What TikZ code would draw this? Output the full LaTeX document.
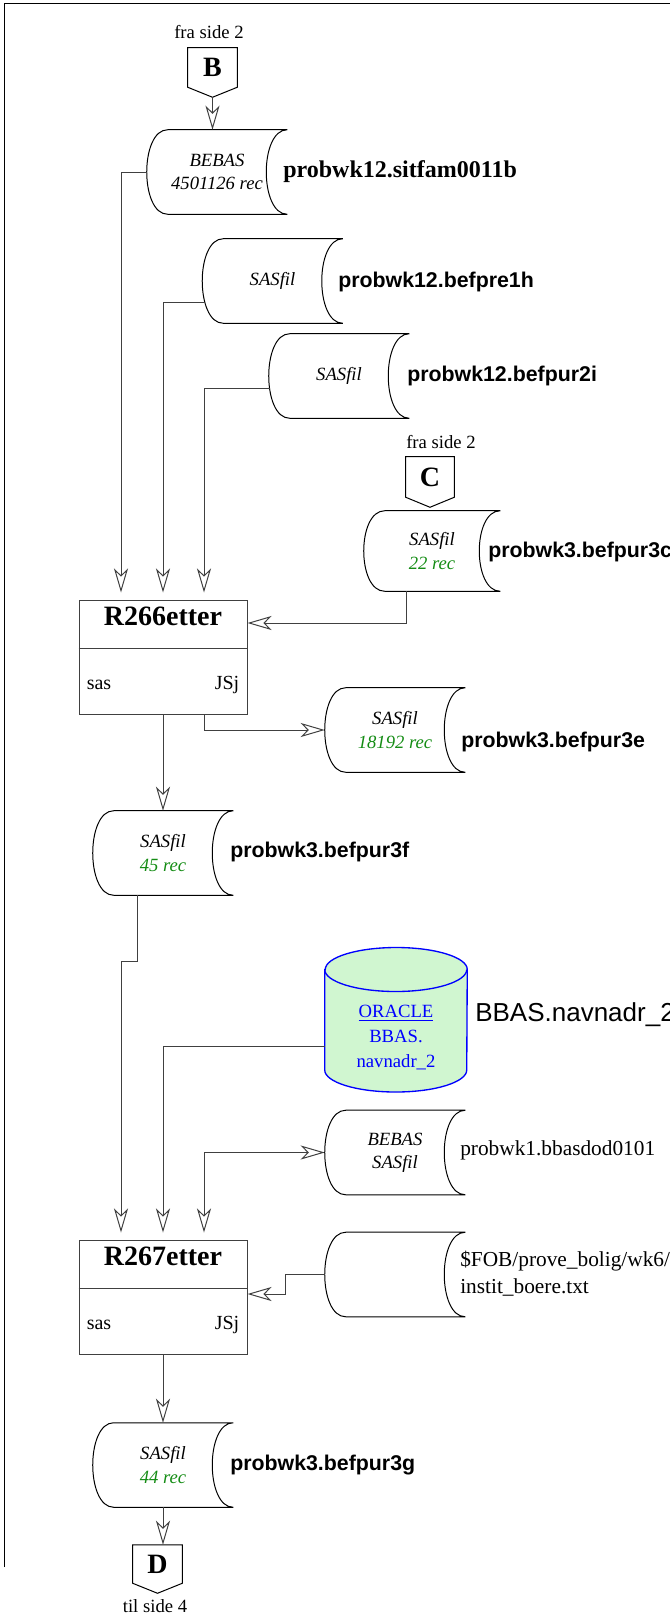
\documentclass[tikz,border=0pt]{standalone}
\usepackage{fontspec}
\setmainfont{Liberation Serif}
\newfontfamily\arialfont{Liberation Sans}
\usetikzlibrary{arrows.meta,backgrounds}

\definecolor{recgreen}{RGB}{20,140,20}
\definecolor{orablue}{RGB}{0,0,255}
\definecolor{orafill}{RGB}{208,246,208}

\newcommand{\filoutline}[1]{%
  \draw[filline] ([xshift=15.75pt]#1.north west) -- (#1.north east)
    .. controls ([xshift=-21pt]#1.north east) and ([xshift=-21pt]#1.south east) .. (#1.south east)
    -- ([xshift=15.75pt]#1.south west)
    .. controls ([xshift=-5.25pt]#1.south west) and ([xshift=-5.25pt]#1.north west) .. ([xshift=15.75pt]#1.north west);}
\newcommand{\sideoutline}[1]{%
  \draw[filline] (#1.north west) -- (#1.north east) -- (#1.south east)
    -- ([yshift=-7.5pt]#1.south) -- (#1.south west) -- cycle;}

\begin{document}
\begin{tikzpicture}[x=0.75pt,y=-0.75pt,
  >={Stealth[open,length=18pt,width=10.5pt,inset=5pt]},
  filline/.style={draw=black,line width=0.75pt},
  fil/.style={inner sep=0pt,minimum width=105pt,minimum height=63pt,align=center,font=\fontsize{14}{17.5}\selectfont\itshape},
  sidebox/.style={inner sep=0pt,minimum width=36.75pt,minimum height=29.25pt,font=\bfseries\fontsize{21}{21}\selectfont},
  sidetxt/.style={inner sep=0pt,font=\fontsize{14}{16}\selectfont},
  procbox/.style={draw=black!75,line width=0.75pt,minimum width=126pt,minimum height=85.5pt,inner sep=0pt},
  procline/.style={draw=black!75,line width=0.75pt},
  proctitle/.style={anchor=base,inner sep=0pt,font=\bfseries\fontsize{21}{21}\selectfont},
  proctxt/.style={inner sep=0pt,font=\fontsize{15}{15}\selectfont},
  serlbl/.style={anchor=west,inner sep=0pt,font=\bfseries\fontsize{18}{18}\selectfont},
  sanslbl/.style={anchor=west,inner sep=0pt,font=\arialfont\bfseries\fontsize{16}{16}\selectfont},
  plainlbl/.style={anchor=west,inner sep=0pt,align=left,font=\fontsize{16}{20}\selectfont},
  oralbl/.style={anchor=west,inner sep=0pt,font=\arialfont\fontsize{19.5}{19.5}\selectfont},
  oranode/.style={inner sep=0pt,minimum width=106.5pt,align=center,text=orablue,font=\fontsize{14}{18.4}\selectfont},
  oraline/.style={draw=orablue,line width=1pt},
  flow/.style={draw=black!75,line width=0.75pt,->},
  intoproc/.style={flow,shorten >=5.25pt}]
\useasboundingbox (0,0) rectangle (670,1617);

%Straight Lines
\draw[line width=0.75pt] (4,1567) -- (4,3) -- (672,3);

% Off-page connectors
\node[sidebox] (bbox) at (212.5,67.5) {B};
\sideoutline{bbox}
\node[sidetxt] (fraB) at (209,32) {fra side 2};
\node[sidebox,minimum width=36pt,minimum height=30pt] (cbox) at (430,477) {C};
\sideoutline{cbox}
\node[sidetxt] (fraC) at (441,442) {fra side 2};
\node[sidebox,minimum height=28.5pt] (dbox) at (157.5,1564) {D};
\sideoutline{dbox}
\node[sidetxt] (tilD) at (155,1606) {til side 4};

% Files
\node[fil] (f1) at (217,172) {BEBAS\\4501126 rec};
\filoutline{f1}
\node[fil] (f2) at (272.5,281) {SASfil};
\filoutline{f2}
\node[fil] (f3) at (339,376) {SASfil};
\filoutline{f3}
\node[fil,minimum width=102pt,minimum height=60pt] (f4) at (432,551) {SASfil\\\textcolor{recgreen}{22 rec}};
\filoutline{f4}
\node[fil] (f5) at (395,730) {SASfil\\\textcolor{recgreen}{18192 rec}};
\filoutline{f5}
\node[fil] (f6) at (163,853) {SASfil\\\textcolor{recgreen}{45 rec}};
\filoutline{f6}
\node[fil] (f7) at (395,1152.5) {BEBAS\\SASfil};
\filoutline{f7}
\node[fil] (f8) at (395,1274.5) {};
\filoutline{f8}
\node[fil] (f9) at (163,1465) {SASfil\\\textcolor{recgreen}{44 rec}};
\filoutline{f9}

% ORACLE table
\node[oranode] (ora) at (396,1037.5) {\underline{ORACLE}\\BBAS.\\navnadr\_2};
\begin{scope}[on background layer]
\draw[oraline,fill=orafill] ([shift={(0,-68)}]ora.west) -- ([shift={(0,32.5)}]ora.west)
  arc[start angle=180,end angle=0,x radius=71,y radius=22]
  -- ([shift={(0,-68)}]ora.east)
  arc[start angle=0,end angle=-180,x radius=71,y radius=22] -- cycle;
\draw[oraline] ([shift={(0,-68)}]ora.west) arc[start angle=180,end angle=0,x radius=71,y radius=22];
\end{scope}

% Programs
\node[procbox] (r266) at (163,657) {};
\draw[procline] ([shift={(0,49)}]r266.north west) -- ([shift={(0,49)}]r266.north east);
\node[proctitle] (r266t) at ([shift={(0,26)}]r266.north) {R266etter};
\node[proctxt,anchor=base west] (r266s) at ([shift={(8,32)}]r266.west) {sas};
\node[proctxt,anchor=base east] (r266j) at ([shift={(-8,32)}]r266.east) {JSj};

\node[procbox] (r267) at (163,1297) {};
\draw[procline] ([shift={(0,49)}]r267.north west) -- ([shift={(0,49)}]r267.north east);
\node[proctitle] (r267t) at ([shift={(0,26)}]r267.north) {R267etter};
\node[proctxt,anchor=base west] (r267s) at ([shift={(8,32)}]r267.west) {sas};
\node[proctxt,anchor=base east] (r267j) at ([shift={(-8,32)}]r267.east) {JSj};

% Text Node
\node[serlbl] (l1) at (283,172) {probwk12.sitfam0011b};
% Text Node
\node[sanslbl] (l2) at (338,282) {probwk12.befpre1h};
% Text Node
\node[sanslbl] (l3) at (407,376) {probwk12.befpur2i};
% Text Node
\node[sanslbl] (l4) at (488,552) {probwk3.befpur3c};
% Text Node
\node[sanslbl] (l5) at (461,742) {probwk3.befpur3e};
% Text Node
\node[sanslbl] (l6) at (230,852) {probwk3.befpur3f};
% Text Node
\node[oralbl] (lora) at (475,1015) {BBAS.navnadr\_2};
% Text Node
\node[plainlbl] (l7) at (460,1150) {probwk1.bbasdod0101};
% Text Node
\node[plainlbl] (l8) at (460,1273.5) {\$FOB/prove\_bolig/wk6/\\instit\_boere.txt};
% Text Node
\node[sanslbl] (l9) at (230,1465) {probwk3.befpur3g};

%Straight Lines
\draw[flow] ([yshift=-7.5pt]bbox.south) -- (bbox.south |- f1.north);
\draw[intoproc] (f1.west) -| ([shift={(-42,0)}]r266.north);
\draw[intoproc] ([shift={(3,21)}]f2.west) -| (r266.north);
\draw[intoproc] ([shift={(1,12)}]f3.west) -| ([shift={(41,0)}]r266.north);
\draw[flow] ([shift={(-26,0)}]f4.south) |- ([shift={(0,-34)}]r266.east);
\draw[flow] ([shift={(41,0)}]r266.south) |- (f5.west);
\draw[flow] (r266.south) -- (f6.north);
\draw[intoproc] ([shift={(-26,0)}]f6.south) -- ++(0,66) -| ([shift={(-42,0)}]r267.north);
\draw[intoproc] ([shift={(0,8.5)}]ora.west) -| (r267.north);
\draw[intoproc,<->] (f7.west) -| ([shift={(41,0)}]r267.north);
\draw[flow] (f8.west) -- ++(-39,0) |- ([shift={(0,-3)}]r267.east);
\draw[flow] (r267.south) -- (f9.north);
\draw[flow] (f9.south) -- (f9.south |- dbox.north);

\end{tikzpicture}
\end{document}
